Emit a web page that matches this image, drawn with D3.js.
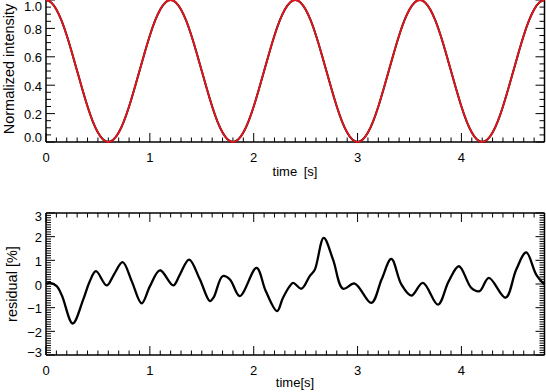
<!DOCTYPE html>
<html><head><meta charset="utf-8">
<script src="https://cdn.jsdelivr.net/npm/d3@7"></script>
<style>body{margin:0;background:#fff}svg{display:block}text{font-family:"Liberation Sans",Arial,sans-serif;fill:#000}</style>
</head><body><div id="c"></div>
<script>
// ---- data ----
const fitTimes = [0,0.05,0.1,0.15,0.2,0.25,0.3,0.35,0.4,0.45,0.5,0.55,0.6,0.65,0.7,0.75,0.8,0.85,0.9,0.95,1.0,1.05,1.1,1.15,1.2,
 1.25,1.3,1.35,1.4,1.45,1.5,1.55,1.6,1.65,1.7,1.75,1.8,1.85,1.9,1.95,2.0,2.05,2.1,2.15,2.2,2.25,2.3,2.35,2.4,
 2.45,2.5,2.55,2.6,2.65,2.7,2.75,2.8,2.85,2.9,2.95,3.0,3.05,3.1,3.15,3.2,3.25,3.3,3.35,3.4,3.45,3.5,3.55,3.6,
 3.65,3.7,3.75,3.8,3.85,3.9,3.95,4.0,4.05,4.1,4.15,4.2,4.25,4.3,4.35,4.4,4.45,4.5,4.55,4.6,4.65,4.7,4.75,4.8];
const fitIntensity = [1.000,0.983,0.933,0.854,0.750,0.629,0.500,0.371,0.250,0.146,0.067,0.017,0.000,0.017,0.067,0.146,0.250,0.371,0.500,0.629,0.750,0.854,0.933,0.983,1.000,
 0.983,0.933,0.854,0.750,0.629,0.500,0.371,0.250,0.146,0.067,0.017,0.000,0.017,0.067,0.146,0.250,0.371,0.500,0.629,0.750,0.854,0.933,0.983,1.000,
 0.983,0.933,0.854,0.750,0.629,0.500,0.371,0.250,0.146,0.067,0.017,0.000,0.017,0.067,0.146,0.250,0.371,0.500,0.629,0.750,0.854,0.933,0.983,1.000,
 0.983,0.933,0.854,0.750,0.629,0.500,0.371,0.250,0.146,0.067,0.017,0.000,0.017,0.067,0.146,0.250,0.371,0.500,0.629,0.750,0.854,0.933,0.983,1.000];
const resTimes = [0,0.038,0.103,0.154,0.257,0.359,0.42,0.481,0.584,0.654,0.738,0.827,0.921,1.0,1.097,1.225,1.289,1.378,1.481,1.578,1.616,1.7,1.77,1.866,
 2.027,2.116,2.225,2.28,2.347,2.379,2.46,2.539,2.588,2.674,2.764,2.86,2.972,3.133,3.232,3.325,3.422,3.518,3.629,3.774,3.876,3.976,
 4.095,4.175,4.264,4.425,4.528,4.624,4.72,4.8];
const resValues = [0.0,0.05,-0.09,-0.5,-1.67,-0.65,0.1,0.54,-0.06,0.4,0.92,0.1,-0.82,-0.1,0.58,-0.06,0.4,1.03,0.2,-0.72,-0.55,0.33,0.2,-0.51,
 0.68,-0.3,-1.15,-0.6,-0.09,0.05,-0.2,0.33,0.6,1.95,1.03,-0.2,0.02,-0.8,0.2,1.06,-0.02,-0.49,0.05,-0.87,0.1,0.75,
 -0.16,-0.3,0.26,-0.58,0.61,1.34,0.4,-0.02];
const xTickLabels = ["0","1","2","3","4"];
const topYTickLabels = ["0.0","0.2","0.4","0.6","0.8","1.0"];
const botYTickLabels = ["\u22123","\u22122","\u22121","0","1","2","3"];

// ---- layout ----
const W=546,H=392;
const svg=d3.select("#c").append("svg").attr("width",W).attr("height",H);
const x=d3.scaleLinear().domain([0,4.8]).range([46,544.5]);
const yTop=d3.scaleLinear().domain([0,1]).range([142,0]);
const yBot=d3.scaleLinear().domain([-3,3]).range([355,213]);

function frame(y, yMajor, yMinor, yLabels, clampTop, clampBot, drawTop){
  const [y0,y1]=y.range(); // bottom, top
  const g=svg.append("g");
  const xMinor=d3.range(0,4.8001,0.1), xMajor=d3.range(0,5,1);
  xMinor.forEach(v=>{
    const major=Math.abs(v-Math.round(v))<1e-6;
    const L=major?9:4.5;
    g.append("line").attr("x1",x(v)).attr("x2",x(v)).attr("y1",y0).attr("y2",y0-L).attr("stroke","#000").attr("stroke-width",1);
    if(drawTop) g.append("line").attr("x1",x(v)).attr("x2",x(v)).attr("y1",y1).attr("y2",y1+L).attr("stroke","#000").attr("stroke-width",1);
  });
  yMinor.forEach(v=>{
    const major=yMajor.some(m=>Math.abs(m-v)<1e-6);
    const L=major?9:5;
    g.append("line").attr("x1",46).attr("x2",46+L).attr("y1",y(v)).attr("y2",y(v)).attr("stroke","#000").attr("stroke-width",1);
    g.append("line").attr("x1",544.5).attr("x2",544.5-L).attr("y1",y(v)).attr("y2",y(v)).attr("stroke","#000").attr("stroke-width",1);
  });
  const sw=1.5;
  g.append("line").attr("x1",46).attr("x2",46).attr("y1",y0).attr("y2",y1).attr("stroke","#000").attr("stroke-width",sw);
  g.append("line").attr("x1",544.5).attr("x2",544.5).attr("y1",y0).attr("y2",y1).attr("stroke","#000").attr("stroke-width",sw);
  g.append("line").attr("x1",46).attr("x2",544.5).attr("y1",y0).attr("y2",y0).attr("stroke","#000").attr("stroke-width",sw);
  if(drawTop) g.append("line").attr("x1",46).attr("x2",544.5).attr("y1",y1).attr("y2",y1).attr("stroke","#000").attr("stroke-width",sw);
  yMajor.forEach((v,i)=>{
    let py=y(v)+1;
    py=Math.max(clampTop,Math.min(clampBot,py));
    g.append("text").attr("x",42).attr("y",py).attr("text-anchor","end").attr("dominant-baseline","central")
      .style("font-size","13px").text(yLabels[i]);
  });
  xMajor.forEach((v,i)=>{
    g.append("text").attr("x",x(v)).attr("y",y0+15).attr("text-anchor","middle").attr("dominant-baseline","central")
      .style("font-size","13px").text(xTickLabels[i]);
  });
  return g;
}

frame(yTop,[0,0.2,0.4,0.6,0.8,1.0],d3.range(0,1.0001,0.05),topYTickLabels,6,137,false);
frame(yBot,[-3,-2,-1,0,1,2,3],d3.range(-3,3.0001,0.1),botYTickLabels,216,352,true);

// curves
const fitData=fitTimes.map((t,i)=>({t,v:fitIntensity[i]}));
const lineTop=d3.line().x(d=>x(d.t)).y(d=>yTop(d.v)).curve(d3.curveNatural);
svg.append("clipPath").attr("id","ct").append("rect").attr("x",46).attr("y",-5).attr("width",499).attr("height",150);
svg.append("path").datum(fitData).attr("d",lineTop).attr("fill","none").attr("stroke","#000").attr("stroke-width",2.0).attr("clip-path","url(#ct)");
svg.append("path").datum(fitData).attr("d",lineTop).attr("fill","none").attr("stroke","#e8141c").attr("stroke-width",1.8).attr("clip-path","url(#ct)");

const resData=resTimes.map((t,i)=>({t,v:resValues[i]}));
const lineBot=d3.line().x(d=>x(d.t)).y(d=>yBot(d.v)).curve(d3.curveCatmullRom.alpha(0.5));
svg.append("path").datum(resData).attr("d",lineBot).attr("fill","none").attr("stroke","#000").attr("stroke-width",2.3).attr("stroke-linejoin","round");

// titles
svg.append("text").attr("transform","translate(14,69) rotate(-90)").attr("text-anchor","middle")
  .style("font-size","14.5px").text("Normalized intensity");
svg.append("text").attr("transform","translate(17,284) rotate(-90)").attr("text-anchor","middle")
  .style("font-size","14.5px").text("residual [%]");
svg.append("text").attr("x",295).attr("y",176).attr("text-anchor","middle").style("font-size","13px").style("word-spacing","3px").text("time [s]");
svg.append("text").attr("x",295).attr("y",387).attr("text-anchor","middle").style("font-size","13px").text("time[s]");
</script></body></html>
